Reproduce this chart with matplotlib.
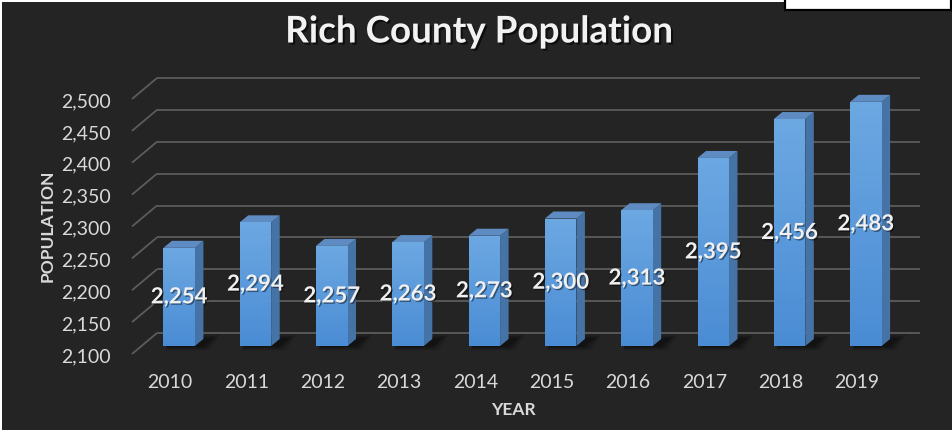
import matplotlib
matplotlib.use("Agg")
import matplotlib.pyplot as plt
import matplotlib.patheffects as pe
from matplotlib.patches import Polygon, Rectangle
import numpy as np

# ---- data -------------------------------------------------------------
years = ["2010", "2011", "2012", "2013", "2014",
         "2015", "2016", "2017", "2018", "2019"]
population = [2254, 2294, 2257, 2263, 2273, 2300, 2313, 2395, 2456, 2483]
y_ticks = [2100, 2150, 2200, 2250, 2300, 2350, 2400, 2450, 2500]
y_tick_labels = [f"{t:,}" for t in y_ticks]
title_text = "Rich County Population"
x_title = "YEAR"
y_title = "POPULATION"

# ---- style ------------------------------------------------------------
plt.rcParams["font.family"] = ["Lato", "DejaVu Sans"]
BG = "#242424"
GRID = "#5c5c5c"
TXT = "#d9d9d9"
FRONT_TOP = np.array([0x6c, 0xa8, 0xe2]) / 255
FRONT_BOT = np.array([0x4a, 0x8c, 0xd4]) / 255
SIDE = "#4673a6"
TOPC = "#5e8cc2"

W, H, DPI = 953, 431, 100
fig = plt.figure(figsize=(W / DPI, H / DPI), dpi=DPI, facecolor=BG)

# front plane of the 3-D box (pixels: left, bottom, width, height)
AX_L, AX_B, AX_W, AX_H = 132, 431 - 355, 763, 255
ax = fig.add_axes([AX_L / W, AX_B / H, AX_W / W, AX_H / H])
ax.set_facecolor("none")
ymin, ymax = y_ticks[0], y_ticks[-1]
n = len(years)
for s in ax.spines.values():
    s.set_visible(False)

px_x = AX_W / n                 # pixels per category
px_y = AX_H / (ymax - ymin)     # pixels per population unit


def depth(dx_px, dy_px):
    """Oblique depth offset in data units (dy positive = up)."""
    return dx_px / px_x, dy_px / px_y


back = depth(25, 21)        # back wall
bar_front = depth(9, 8)     # front face of bars
bar_depth = depth(8.5, 7)   # thickness of bars
half_w = 15.75 / px_x

# walls: side-wall diagonals and back-wall gridlines
x_left, x_right = -0.5, n - 0.5
for t in y_ticks:
    ax.plot([x_left, x_left + back[0]], [t, t + back[1]], color=GRID,
            lw=1.3, clip_on=False, zorder=1, solid_capstyle="butt")
    ax.plot([x_left + back[0], x_right + back[0]], [t + back[1]] * 2,
            color=GRID, lw=1.3, clip_on=False, zorder=1, solid_capstyle="butt")

# gradient used on bar fronts
grad = np.linspace(0, 1, 256)[:, None, None]
grad_img = FRONT_TOP * (1 - grad) + FRONT_BOT * grad

for i, v in enumerate(population):
    cx = i + bar_front[0]
    x0, x1 = cx - half_w, cx + half_w
    yb, yt = ymin + bar_front[1], v + bar_front[1]
    dx, dy = bar_depth

    # soft floor shadow behind the base
    for k, a in zip(range(5), [0.08, 0.09, 0.10, 0.12, 0.14]):
        grow = (5 - k) * 0.9
        sh = Polygon([(x0 + dx * 0.3, yb - grow / px_y),
                      (x1 + (6 + grow * 2) / px_x, yb - grow / px_y),
                      (x1 + dx + (8 + grow * 2) / px_x, yb + dy + grow / px_y),
                      (x0 + dx, yb + dy + grow / px_y)],
                     closed=True, facecolor="black", edgecolor="none",
                     alpha=a, clip_on=False, zorder=2)
        ax.add_patch(sh)

    front = Polygon([(x0, yb), (x1, yb), (x1, yt), (x0, yt)], closed=True,
                    facecolor=FRONT_BOT, edgecolor="none", clip_on=False,
                    zorder=3)
    ax.add_patch(front)
    im = ax.imshow(grad_img, extent=(x0, x1, yb, yt), aspect="auto",
                   origin="upper", zorder=3.1, interpolation="bilinear")
    im.set_clip_path(front)

    side = Polygon([(x1, yb), (x1 + dx, yb + dy), (x1 + dx, yt + dy),
                    (x1, yt)], closed=True, facecolor=SIDE,
                   edgecolor="none", clip_on=False, zorder=3)
    top = Polygon([(x0, yt), (x1, yt), (x1 + dx, yt + dy),
                   (x0 + dx, yt + dy)], closed=True, facecolor=TOPC,
                  edgecolor="none", clip_on=False, zorder=3)
    ax.add_patch(side)
    ax.add_patch(top)

    # value label centred on the bar front
    ax.text(cx, (ymin + v) / 2 + bar_front[1], f"{v:,}", ha="center",
            va="center", fontsize=16, fontweight="bold", color="#f0f0f0",
            zorder=6,
            path_effects=[pe.withSimplePatchShadow(offset=(1.0, -1.0),
                                                    shadow_rgbFace="black",
                                                    alpha=0.45)])

ax.set_xlim(x_left, x_right)
ax.set_ylim(ymin, ymax)
ax.set_xticks(range(n), years)
ax.set_yticks(y_ticks, y_tick_labels)
ax.tick_params(axis="y", length=0, pad=15, labelsize=14, labelcolor=TXT)
ax.tick_params(axis="x", length=0, pad=14, labelsize=14, labelcolor=TXT)

# titles
fig.text(0.502, 1 - 33 / H, title_text, ha="center", va="center",
         fontsize=26.5, fontweight="bold", color="#f2f2f2",
         path_effects=[pe.withSimplePatchShadow(offset=(1.5, -1.5),
                                                 shadow_rgbFace="black",
                                                 alpha=0.6)])
fig.text(513 / W, 1 - 410 / H, x_title, ha="center", va="center",
         fontsize=12.5, fontweight="bold", color=TXT)
fig.text(48 / W, 1 - 226 / H, y_title, ha="center", va="center",
         rotation=90, fontsize=12.5, fontweight="bold", color=TXT)

# page edges around the chart
fig.patches.append(Rectangle((0, 1 - 3 / H), 1, 3 / H, transform=fig.transFigure,
                             facecolor="white", edgecolor="none", zorder=10))
fig.patches.append(Rectangle((0, 0), 2 / W, 1, transform=fig.transFigure,
                             facecolor="white", edgecolor="none", zorder=10))
fig.patches.append(Rectangle((785 / W, 1 - 11 / H), (951 - 785) / W, 12 / H,
                             transform=fig.transFigure, facecolor="white",
                             edgecolor="black", linewidth=1.6, zorder=11))

fig.savefig("out.png", dpi=DPI, facecolor=BG)
